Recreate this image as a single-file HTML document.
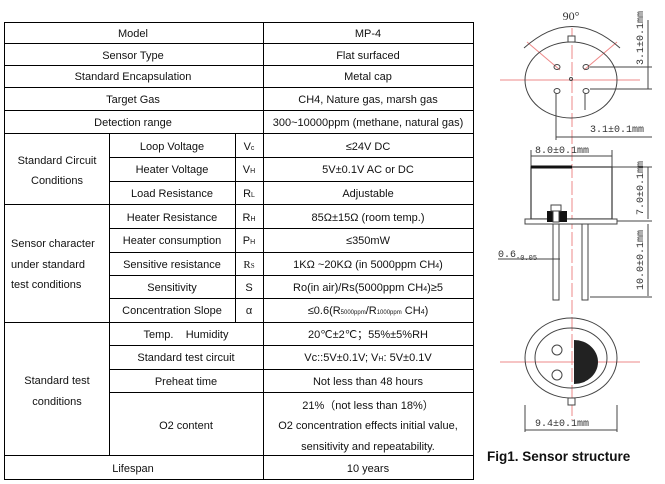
<!DOCTYPE html>
<html><head><meta charset="utf-8"><style>
body{margin:0;background:#fff;}
svg{display:block;}
text{font-family:"Liberation Sans",sans-serif;font-size:11px;fill:#111;}
.c{text-anchor:middle;}
.m{font-family:"Liberation Mono",monospace;font-size:10px;fill:#333;}
</style></head><body>
<svg width="665" height="484" viewBox="0 0 665 484" xmlns="http://www.w3.org/2000/svg">
<g stroke="#000" stroke-width="1" fill="none">
<rect x="4.5" y="22.5" width="469" height="457"/>
<line x1="263.5" y1="22" x2="263.5" y2="480"/>
<line x1="109.5" y1="133" x2="109.5" y2="455"/>
<line x1="235.5" y1="133" x2="235.5" y2="322"/>
<line x1="4" y1="43.5" x2="474" y2="43.5"/>
<line x1="4" y1="65.5" x2="474" y2="65.5"/>
<line x1="4" y1="87.5" x2="474" y2="87.5"/>
<line x1="4" y1="110.5" x2="474" y2="110.5"/>
<line x1="4" y1="133.5" x2="474" y2="133.5"/>
<line x1="109" y1="157.5" x2="474" y2="157.5"/>
<line x1="109" y1="181.5" x2="474" y2="181.5"/>
<line x1="4" y1="204.5" x2="474" y2="204.5"/>
<line x1="109" y1="228.5" x2="474" y2="228.5"/>
<line x1="109" y1="252.5" x2="474" y2="252.5"/>
<line x1="109" y1="275.5" x2="474" y2="275.5"/>
<line x1="109" y1="298.5" x2="474" y2="298.5"/>
<line x1="4" y1="322.5" x2="474" y2="322.5"/>
<line x1="109" y1="345.5" x2="474" y2="345.5"/>
<line x1="109" y1="369.5" x2="474" y2="369.5"/>
<line x1="109" y1="392.5" x2="474" y2="392.5"/>
<line x1="4" y1="455.5" x2="474" y2="455.5"/>
</g>
<text class="c" x="133" y="37">Model</text><text class="c" x="368" y="37">MP-4</text>
<text class="c" x="133" y="59">Sensor Type</text><text class="c" x="368" y="59">Flat surfaced</text>
<text class="c" x="133" y="80">Standard Encapsulation</text><text class="c" x="368" y="80">Metal cap</text>
<text class="c" x="133" y="103">Target Gas</text><text class="c" x="368" y="103">CH4, Nature gas, marsh gas</text>
<text class="c" x="133" y="126">Detection range</text><text class="c" x="368" y="126">300~10000ppm (methane, natural gas)</text>
<text class="c" x="57" y="164">Standard Circuit</text><text class="c" x="57" y="184">Conditions</text>
<text class="c" x="172" y="150">Loop Voltage</text><text class="c" x="249" y="150">V<tspan font-size="7">c</tspan></text><text class="c" x="368" y="150">≤24V DC</text>
<text class="c" x="172" y="173">Heater Voltage</text><text class="c" x="249" y="173">V<tspan font-size="7">H</tspan></text><text class="c" x="368" y="173">5V±0.1V AC or DC</text>
<text class="c" x="172" y="197">Load Resistance</text><text class="c" x="249" y="197">R<tspan font-size="7">L</tspan></text><text class="c" x="368" y="197">Adjustable</text>
<text x="11" y="247">Sensor character</text><text x="11" y="268">under standard</text><text x="11" y="288">test conditions</text>
<text class="c" x="172" y="221">Heater Resistance</text><text class="c" x="249" y="221">R<tspan font-size="7">H</tspan></text><text class="c" x="368" y="221">85Ω±15Ω (room temp.)</text>
<text class="c" x="172" y="244">Heater consumption</text><text class="c" x="249" y="244">P<tspan font-size="7">H</tspan></text><text class="c" x="368" y="244">≤350mW</text>
<text class="c" x="172" y="268">Sensitive resistance</text><text class="c" x="249" y="268" style="font-family:'Liberation Serif',serif">R<tspan font-size="7">S</tspan></text><text class="c" x="368" y="268">1KΩ ~20KΩ  (in 5000ppm CH<tspan font-size="7">4</tspan>)</text>
<text class="c" x="172" y="291">Sensitivity</text><text class="c" x="249" y="291">S</text><text class="c" x="368" y="291">Ro(in air)/Rs(5000ppm CH<tspan font-size="7">4</tspan>)≥5</text>
<text class="c" x="172" y="314">Concentration Slope</text><text class="c" x="249" y="314">α</text><text class="c" x="368" y="314">≤0.6(R<tspan font-size="6">5000ppm</tspan>/R<tspan font-size="6">1000ppm</tspan> CH<tspan font-size="7">4</tspan>)</text>
<text class="c" x="57" y="384">Standard test</text><text class="c" x="57" y="405">conditions</text>
<text class="c" x="186" y="338" xml:space="preserve">Temp.    Humidity</text><text class="c" x="368" y="338">20℃±2℃；55%±5%RH</text>
<text class="c" x="186" y="361">Standard test circuit</text><text class="c" x="368" y="361">Vc::5V±0.1V; V<tspan font-size="7">H</tspan>: 5V±0.1V</text>
<text class="c" x="186" y="385">Preheat time</text><text class="c" x="368" y="385">Not less than 48 hours</text>
<text class="c" x="186" y="429">O2 content</text>
<text class="c" x="368" y="409">21%（not less than 18%）</text>
<text class="c" x="368" y="429">O2 concentration effects initial value,</text>
<text class="c" x="368" y="450">sensitivity and repeatability.</text>
<text class="c" x="133" y="472">Lifespan</text><text class="c" x="368" y="472">10 years</text>

<g stroke="#e88" stroke-width="1" fill="none">
<line x1="572" y1="28" x2="572" y2="420" stroke-dasharray="14,3"/>
<line x1="500" y1="80" x2="640" y2="80"/>
<line x1="500" y1="362" x2="640" y2="362"/>
<line x1="527" y1="42" x2="560" y2="70"/><line x1="617" y1="42" x2="584" y2="70"/>
</g>
<g stroke="#444" stroke-width="1" fill="none">
<path d="M524 48 Q572 5 620 48"/>
<ellipse cx="571" cy="80" rx="46" ry="38" fill="none"/>
<rect x="568" y="36" width="7" height="6" fill="#fff"/>
<ellipse cx="557" cy="67" rx="3" ry="2.5"/><ellipse cx="586" cy="67" rx="3" ry="2.5"/>
<ellipse cx="557" cy="91" rx="3" ry="2.5"/><ellipse cx="586" cy="91" rx="3" ry="2.5"/>
<circle cx="571" cy="79" r="1.5"/>
<line x1="556" y1="93" x2="556" y2="140"/><line x1="585" y1="93" x2="585" y2="110"/>
<line x1="556" y1="137" x2="652" y2="137"/>
<line x1="648" y1="20" x2="648" y2="89"/><line x1="590" y1="67" x2="652" y2="67"/><line x1="590" y1="89" x2="652" y2="89"/>
<line x1="531" y1="156" x2="612" y2="156"/><line x1="531" y1="150" x2="531" y2="170"/><line x1="612" y1="150" x2="612" y2="170"/>
<rect x="531" y="167" width="81" height="52" stroke-width="1.3"/>
<line x1="531" y1="167" x2="572" y2="167" stroke-width="3" stroke="#111"/>
<rect x="525" y="219" width="92" height="5" fill="#fff"/>
<rect x="553" y="224" width="6" height="76"/><rect x="582" y="224" width="6" height="76"/>
<line x1="612" y1="167" x2="652" y2="167"/><line x1="617" y1="221" x2="652" y2="221"/><line x1="590" y1="297" x2="652" y2="297"/>
<line x1="648" y1="167" x2="648" y2="219"/><line x1="648" y1="224" x2="648" y2="296"/>
<line x1="498" y1="259" x2="560" y2="259"/>
<ellipse cx="571" cy="358" rx="46" ry="40"/>
<ellipse cx="571" cy="358" rx="36" ry="30"/>
<rect x="568" y="398" width="7" height="7" fill="#fff"/>
<circle cx="557" cy="350" r="5"/><circle cx="557" cy="375" r="5"/>
<line x1="525" y1="405" x2="525" y2="432"/><line x1="617" y1="405" x2="617" y2="432"/>
<line x1="525" y1="430" x2="617" y2="430"/>
</g>
<rect x="547" y="211" width="20" height="11" fill="#111"/>
<rect x="553" y="211" width="6" height="11" fill="#fff" stroke="#444"/>
<rect x="551" y="205" width="10" height="6" fill="#fff" stroke="#444"/>
<path d="M574 340 A24 22 0 0 1 574 384 Z" fill="#222"/>
<text class="m" x="571" y="20" text-anchor="middle" style="font-family:'Liberation Serif',serif;font-size:12px">90°</text>
<text class="m" x="590" y="132">3.1±0.1mm</text>
<text class="m" x="535" y="153">8.0±0.1mm</text>
<text class="m" x="498" y="257">0.6<tspan font-size="7" dy="3">-0.05</tspan></text>
<text class="m" x="535" y="426">9.4±0.1mm</text>
<text class="m" transform="translate(643,65) rotate(-90)">3.1±0.1mm</text>
<text class="m" transform="translate(643,215) rotate(-90)">7.0±0.1mm</text>
<text class="m" transform="translate(643,290) rotate(-90)">10.0±0.1mm</text>
<text x="487" y="461" style="font-size:13.5px;font-weight:bold">Fig1. Sensor structure</text>
</svg>
</body></html>
